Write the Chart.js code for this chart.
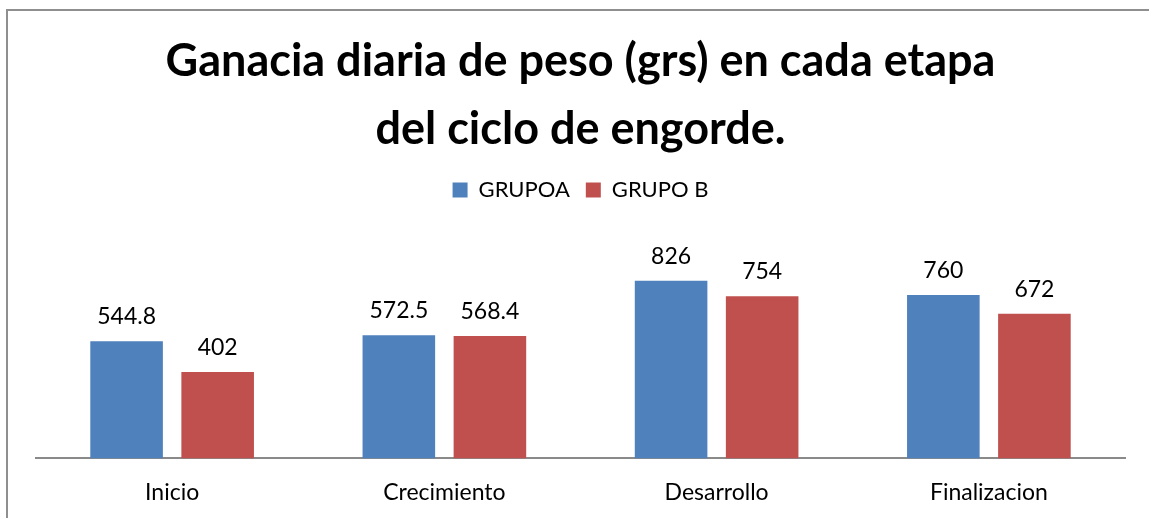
<!DOCTYPE html>
<html>
<head>
<meta charset="utf-8">
<script src="https://cdn.jsdelivr.net/npm/chart.js@4"></script>
<style>
  html, body { margin: 0; padding: 0; background: #fff; overflow: hidden; }
  .frame {
    position: absolute; left: 6px; top: 9px; width: 1300px; height: 700px;
    border-left: 2px solid #8f8f8f; border-top: 2px solid #8f8f8f;
  }
  .wrap { position: absolute; left: 0; top: 0; width: 1149px; height: 518px; }
</style>
</head>
<body>
<div class="frame"></div>
<div class="wrap"><canvas id="gananciaChart"></canvas></div>
<script>
const etapas = ["Inicio", "Crecimiento", "Desarrollo", "Finalizacion"];
const grupoA = [544.8, 572.5, 826, 760];
const grupoB = [402, 568.4, 754, 672];
const serieNames = ["GRUPOA", "GRUPO B"];
const tituloLineas = ["Ganacia diaria de peso (grs) en cada etapa", "del ciclo de engorde."];

const FONT = "Lato, 'Open Sans', sans-serif";

// values above each bar, like excel data labels
const barValues = {
  id: "barValues",
  afterDatasetsDraw(chart) {
    const ctx = chart.ctx;
    ctx.save();
    ctx.font = "23px " + FONT;
    ctx.fillStyle = "#000";
    ctx.textAlign = "center";
    ctx.textBaseline = "alphabetic";
    chart.data.datasets.forEach((ds, i) => {
      chart.getDatasetMeta(i).data.forEach((bar, j) => {
        ctx.fillText(String(ds.data[j]), bar.x, bar.y - 17);
      });
    });
    ctx.restore();
  },
};

let ctx = document.getElementById("gananciaChart").getContext("2d");

window.gananciaChart = new Chart(ctx, {
  type: "bar",
  data: {
    labels: etapas,
    datasets: [
      {
        label: serieNames[0],
        data: grupoA,
        backgroundColor: "#4F81BD",
        borderWidth: 0,
        categoryPercentage: 0.669,
        barPercentage: 0.797,
      },
      {
        label: serieNames[1],
        data: grupoB,
        backgroundColor: "#C0504D",
        borderWidth: 0,
        categoryPercentage: 0.669,
        barPercentage: 0.797,
      },
    ],
  },
  options: {
    responsive: true,
    maintainAspectRatio: false,
    animation: false,
    layout: {
      padding: { top: 0, left: 36, right: 24, bottom: -8 },
    },
    scales: {
      y: {
        display: false,
        min: 0,
        max: 1150,
      },
      x: {
        grid: { display: false, drawTicks: false },
        border: { display: true, color: "#8a8a8a", width: 2 },
        ticks: {
          color: "#000",
          padding: 20,
          font: { family: FONT, size: 23 },
        },
      },
    },
    plugins: {
      title: {
        display: true,
        text: tituloLineas,
        color: "#000",
        padding: { top: 28, bottom: 0 },
        font: { family: FONT, size: 45, weight: "bold", lineHeight: 1.5 },
      },
      legend: {
        display: true,
        labels: {
          color: "#000",
          boxWidth: 15,
          boxHeight: 15,
          padding: 16,
          font: { family: FONT, size: 22, lineHeight: 1 },
        },
      },
      tooltip: { enabled: false },
    },
  },
  plugins: [barValues],
});
</script>
</body>
</html>
